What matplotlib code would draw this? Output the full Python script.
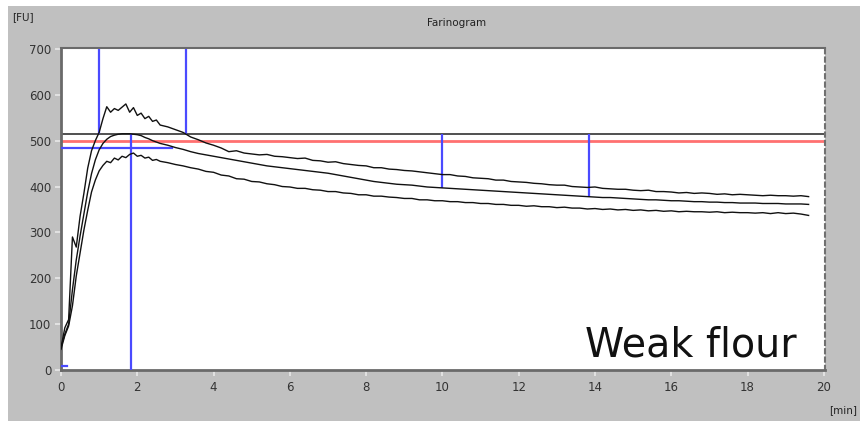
import matplotlib
matplotlib.use("Agg")
import matplotlib.pyplot as plt
from matplotlib.patches import Rectangle

# ---------------- data ----------------
time_min = [
    0.0, 0.1, 0.2, 0.3, 0.4, 0.5, 0.6, 0.7, 0.8, 0.9,
    1.0, 1.1, 1.2, 1.3, 1.4, 1.5, 1.6, 1.7, 1.8, 1.9,
    2.0, 2.1, 2.2, 2.3, 2.4, 2.5, 2.6, 2.8, 3.0, 3.2,
    3.4, 3.6, 3.8, 4.0, 4.2, 4.4, 4.6, 4.8, 5.0, 5.2,
    5.4, 5.6, 5.8, 6.0, 6.2, 6.4, 6.6, 6.8, 7.0, 7.2,
    7.4, 7.6, 7.8, 8.0, 8.2, 8.4, 8.6, 8.8, 9.0, 9.2,
    9.4, 9.6, 9.8, 10.0, 10.2, 10.4, 10.6, 10.8, 11.0, 11.2,
    11.4, 11.6, 11.8, 12.0, 12.2, 12.4, 12.6, 12.8, 13.0, 13.2,
    13.4, 13.6, 13.8, 14.0, 14.2, 14.4, 14.6, 14.8, 15.0, 15.2,
    15.4, 15.6, 15.8, 16.0, 16.2, 16.4, 16.6, 16.8, 17.0, 17.2,
    17.4, 17.6, 17.8, 18.0, 18.2, 18.4, 18.6, 18.8, 19.0, 19.2,
    19.4, 19.6,
]
upper_fu = [
    48, 92, 110, 290, 268, 335, 385, 440, 478, 500,
    518, 548, 574, 562, 570, 566, 573, 580, 562, 572,
    555, 560, 548, 553, 542, 545, 534, 530, 524, 518,
    508, 502, 495, 490, 484, 476, 478, 473, 471, 469,
    470, 466, 465, 463, 461, 462, 457, 456, 453, 454,
    450, 448, 446, 445, 441, 441, 438, 437, 435, 434,
    432, 430, 428, 426, 426, 423, 422, 419, 418, 417,
    414, 414, 411, 410, 409, 407, 406, 404, 403, 403,
    400, 399, 398, 399, 396, 395, 394, 394, 392, 391,
    392, 389, 389, 388, 386, 387, 385, 386, 385, 383,
    384, 382, 383, 382, 381, 380, 381, 380, 380, 379,
    380, 378,
]
middle_fu = [
    50, 78, 100, 175, 240, 292, 340, 388, 428, 458,
    480, 494, 503, 509, 512, 514, 515, 515, 515, 514,
    513, 511, 507, 504, 500, 497, 494, 490, 485, 481,
    476, 472, 469, 466, 463, 460, 457, 454, 451, 448,
    445, 443, 441, 439, 437, 435, 433, 431, 429, 426,
    423, 420, 417, 414, 411, 409, 407, 405, 404, 403,
    401, 399, 398, 397, 396, 395, 394, 393, 392, 391,
    390, 389, 388, 387, 386, 385, 384, 383, 382, 381,
    380, 379, 378, 377, 376, 376, 375, 374, 373, 372,
    371, 371, 370, 369, 369, 368, 367, 367, 366, 366,
    365, 365, 364, 364, 364, 363, 363, 363, 362, 362,
    362, 361,
]
lower_fu = [
    45, 75, 96, 140, 205, 255, 305, 348, 388, 414,
    434, 446, 455, 452, 462, 458, 466, 463, 470, 473,
    466, 468, 462, 464, 457, 459, 455, 452, 448, 445,
    441, 438, 433, 431, 425, 423, 417, 416, 411, 410,
    406, 404, 400, 399, 396, 396, 393, 392, 389, 389,
    386, 385, 382, 382, 379, 379, 377, 376, 374, 374,
    371, 371, 369, 369, 367, 367, 365, 365, 363, 363,
    361, 361, 359, 359, 357, 358, 356, 356, 354, 355,
    353, 353, 351, 352, 350, 351, 349, 350, 348, 349,
    347, 348, 346, 347, 345, 346, 345, 345, 344, 345,
    343, 344, 343, 343, 342, 343, 341, 343, 341, 342,
    340, 337,
]

consistency_fu = 515      # black reference line
target_fu = 500           # red target line
tolerance_fu = 485        # short blue line
tolerance_end_min = 2.9

marker_x = [1.0, 3.28, 1.83, 10.0, 13.85]
marker_y0 = [515, 515, 0, 397, 378]
marker_y1 = [700, 700, 515, 515, 515]

x_ticks = [0, 2, 4, 6, 8, 10, 12, 14, 16, 18, 20]
y_ticks = [0, 100, 200, 300, 400, 500, 600, 700]

# ---------------- figure ----------------
W, H = 860, 421
fig = plt.figure(figsize=(W / 100, H / 100), dpi=100, facecolor="white")
fig.patches.append(Rectangle((8 / W, 0), 1 - 8 / W, (H - 6) / H,
                             transform=fig.transFigure, facecolor="#c0c0c0",
                             edgecolor="none", zorder=-10))

left, right, top, bottom = 61, 825, 48, 370
ax = fig.add_axes([left / W, 1 - bottom / H, (right - left) / W, (bottom - top) / H])
ax.set_facecolor("white")
ax.set_xlim(0, 20.03)
ax.set_ylim(0, 702)

ax.axhline(consistency_fu, color="#505050", lw=1.4, zorder=2)
ax.axhline(target_fu, color="#ff7070", lw=2.0, zorder=2)
ax.plot([0, tolerance_end_min], [tolerance_fu, tolerance_fu], color="#4a4aff", lw=1.6, zorder=3)
ax.plot([0, 0.15], [9, 9], color="#4a4aff", lw=1.6, zorder=3)
ax.vlines(marker_x, marker_y0, marker_y1, colors="#4a4aff", lw=1.6, zorder=3)

for series in (upper_fu, middle_fu, lower_fu):
    ax.plot(time_min, series, color="#111111", lw=1.0, zorder=4)

ax.text(19.28, 30, "Weak flour", fontsize=28.5, family="DejaVu Sans",
        ha="right", va="baseline", color="#111111")

for s in ("left", "bottom"):
    ax.spines[s].set_color("#6a6a6a")
    ax.spines[s].set_linewidth(2.0)
ax.spines["top"].set_color("#6a6a6a")
ax.spines["top"].set_linewidth(1.5)
ax.spines["right"].set_color("#707070")
ax.spines["right"].set_linewidth(1.5)
ax.spines["right"].set_linestyle((0, (2, 2)))

ax.set_xticks(x_ticks)
ax.set_yticks(y_ticks)
ax.tick_params(axis="both", colors="#e8e8e8", length=4, width=1.2, direction="out",
               labelsize=8.5, labelcolor="#333333")
ax.tick_params(axis="y", pad=3)
ax.tick_params(axis="x", pad=4)

fig.text(457 / W, 1 - 23 / H, "Farinogram", fontsize=7.5, ha="center", va="center", color="#222222")
fig.text(12 / W, 1 - 17 / H, "[FU]", fontsize=7.5, ha="left", va="center", color="#222222")
fig.text(857 / W, 1 - 410 / H, "[min]", fontsize=7.5, ha="right", va="center", color="#222222")

fig.savefig("out.png", dpi=100, facecolor=fig.get_facecolor())
